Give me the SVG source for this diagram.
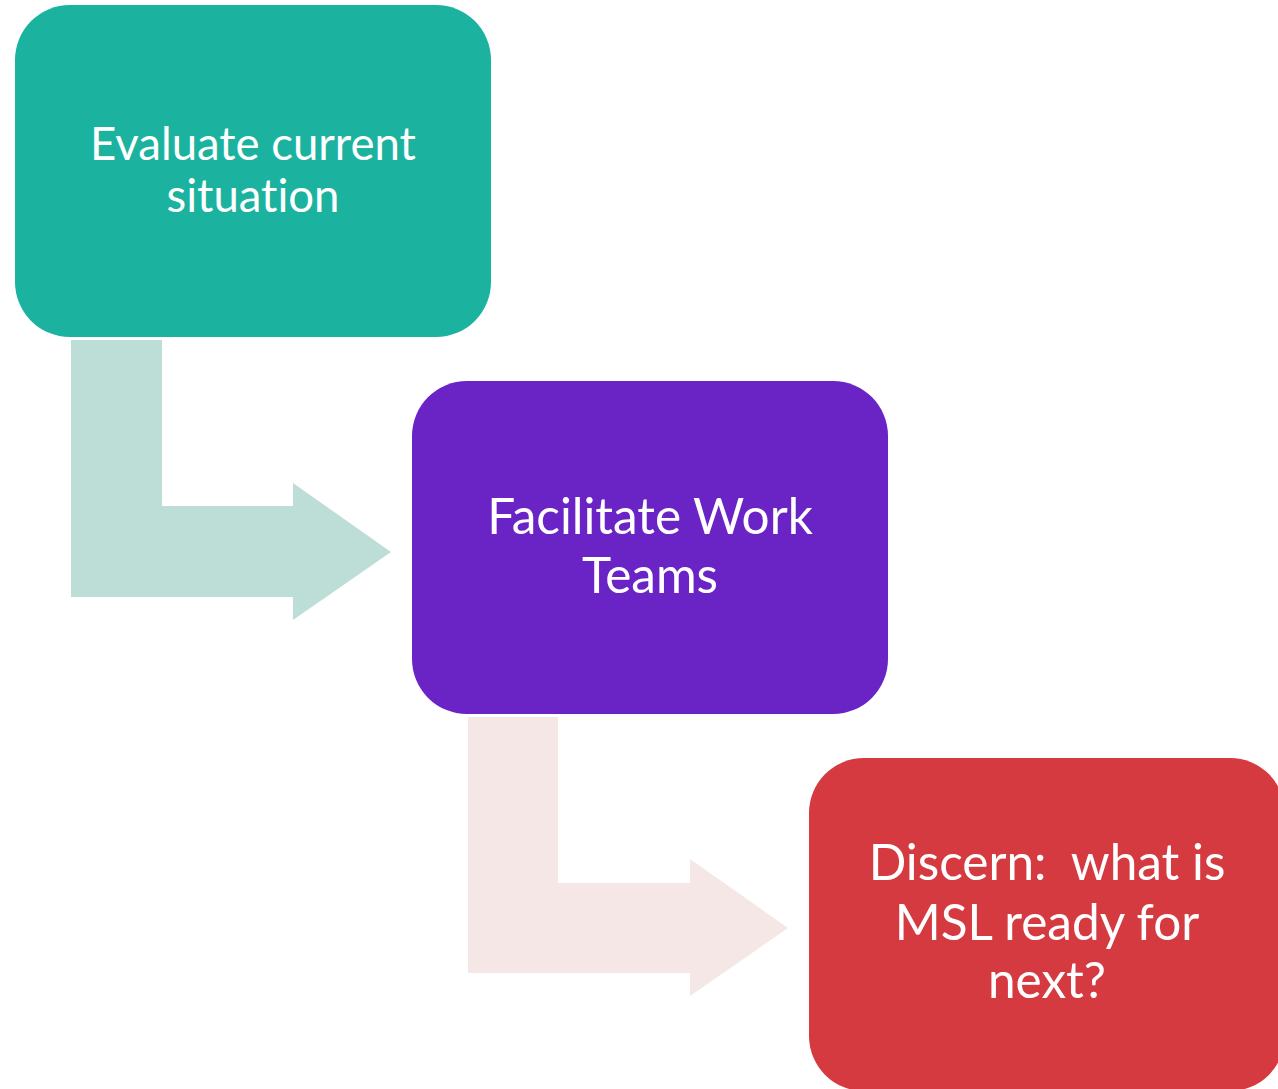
<svg xmlns="http://www.w3.org/2000/svg" width="1278" height="1089" viewBox="0 0 1278 1089">
<style>
.lbl{font-family:"Lato","Open Sans","Liberation Sans",sans-serif;fill:#ffffff;text-anchor:middle;font-variant-ligatures:none;font-feature-settings:"liga" 0}
</style>
<rect width="1278" height="1089" fill="#ffffff"/>
<g id="connectors">
<path d="M71 340 H162 V506 H293 V483 L391 552 L293 620 V597 H71 Z" fill="#BDDED6"/>
<path d="M468 717 H558 V883 H690 V859 L788 928 L690 996 V973 H468 Z" fill="#F5E7E6"/>
</g>
<g id="node1">
<rect x="15" y="5" width="476" height="332" rx="55" fill="#1BB3A0"/>
<text class="lbl" font-size="45.5" x="253" y="160">Evaluate current</text>
<text class="lbl" font-size="45.5" x="253" y="212">situation</text>
</g>
<g id="node2">
<rect x="412" y="381" width="476" height="333" rx="55" fill="#6A24C6"/>
<text class="lbl" font-size="49.5" x="650" y="534">Facilitate Work</text>
<text class="lbl" font-size="49.5" x="650" y="593">Teams</text>
</g>
<g id="node3">
<rect x="809" y="758" width="476" height="333" rx="55" fill="#D53A40"/>
<text class="lbl" font-size="49.5" x="1047" y="880" xml:space="preserve">Discern:  what is</text>
<text class="lbl" font-size="49.5" x="1047" y="940">MSL ready for</text>
<text class="lbl" font-size="49.5" x="1047" y="998">next?</text>
</g>
</svg>
